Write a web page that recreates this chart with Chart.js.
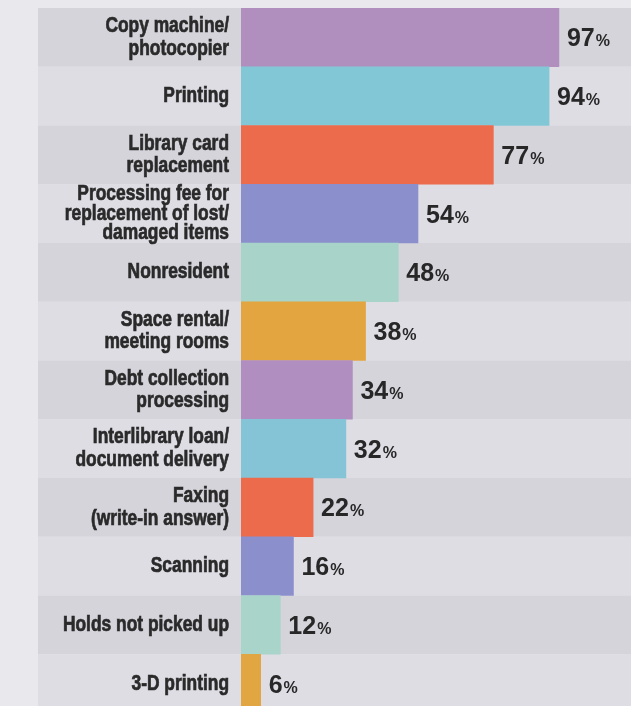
<!DOCTYPE html>
<html>
<head>
<meta charset="utf-8">
<script src="https://cdn.jsdelivr.net/npm/chart.js@4"></script>
<style>
	html, body { margin: 0; padding: 0; background: #e9e9ed; }
	#wrap { width: 631px; height: 706px; overflow: hidden; position: relative; }
	#feeChart { display: block; }
</style>
</head>
<body>
<div id="wrap">
	<canvas id="feeChart" width="631" height="713"></canvas>
</div>
<script>
// 항목 라벨 (여러 줄)
const categories = [
	['Copy machine/', 'photocopier'],
	['Printing'],
	['Library card', 'replacement'],
	['Processing fee for', 'replacement of lost/', 'damaged items'],
	['Nonresident'],
	['Space rental/', 'meeting rooms'],
	['Debt collection', 'processing'],
	['Interlibrary loan/', 'document delivery'],
	['Faxing', '(write-in answer)'],
	['Scanning'],
	['Holds not picked up'],
	['3-D printing']
];

// 퍼센트 값
const percents = [97, 94, 77, 54, 48, 38, 34, 32, 22, 16, 12, 6];

// 막대 색상
const barColors = [
	'#b08fbf', '#82c7d5', '#ec6b4d', '#8b8fcc', '#a7d3c9', '#e3a540',
	'#b08fc0', '#84c4d6', '#ec6b4d', '#8b8fcc', '#a9d4ca', '#e1a542'
];

const textFont = "'Liberation Sans', Arial, sans-serif";

// 행 배경 띠
const rowBands = {
	id: 'rowBands',
	beforeDraw(chart) {
		const { ctx, chartArea, scales } = chart;
		const step = chartArea.height / categories.length;
		ctx.save();
		categories.forEach((c, i) => {
			const y = scales.y.getPixelForValue(i) - step / 2;
			ctx.fillStyle = i % 2 === 0 ? '#d5d4db' : '#dedde4';
			ctx.fillRect(38, y, chart.width - 38, step);
		});
		ctx.restore();
	}
};

// 항목 라벨 (좁은 글꼴 느낌으로 가로 압축)
const categoryLabels = {
	id: 'categoryLabels',
	afterDraw(chart) {
		const { ctx, chartArea, scales } = chart;
		const right = chartArea.left - 12;
		const sx = 0.79;
		ctx.save();
		ctx.fillStyle = '#2a2a2a';
		ctx.strokeStyle = '#2a2a2a';
		ctx.lineWidth = 0.7;
		ctx.font = 'bold 22px ' + textFont;
		ctx.textAlign = 'right';
		ctx.textBaseline = 'middle';
		categories.forEach((lines, i) => {
			const cy = scales.y.getPixelForValue(i);
			const lh = lines.length > 2 ? 19.5 : 22.5;
			lines.forEach((line, j) => {
				const y = cy + (j - (lines.length - 1) / 2) * lh;
				ctx.save();
				ctx.translate(right, y);
				ctx.scale(sx, 1);
				ctx.fillText(line, 0, 0);
				ctx.strokeText(line, 0, 0); // 굵게 보이도록
				ctx.restore();
			});
		});
		ctx.restore();
	}
};

// 값 라벨 (숫자 + 작은 %)
const valueLabels = {
	id: 'valueLabels',
	afterDatasetsDraw(chart) {
		const { ctx } = chart;
		const bars = chart.getDatasetMeta(0).data;
		ctx.save();
		ctx.fillStyle = '#272727';
		ctx.textBaseline = 'alphabetic';
		bars.forEach((bar, i) => {
			const x = bar.x + 8;
			const y = bar.y + 9;
			ctx.font = 'bold 25px ' + textFont;
			const num = String(percents[i]);
			ctx.fillText(num, x, y);
			const w = ctx.measureText(num).width;
			ctx.font = 'bold 16px ' + textFont;
			ctx.fillText('%', x + w + 1, y);
		});
		ctx.restore();
	}
};

const feeCtx = document.getElementById('feeChart').getContext('2d');
new Chart(feeCtx, {
	type: 'bar',
	data: {
		labels: categories.map(c => c.join(' ')),
		datasets: [{
			data: percents,
			backgroundColor: barColors,
			borderWidth: 0,
			barPercentage: 1,
			categoryPercentage: 1
		}]
	},
	options: {
		indexAxis: 'y', // 수평 막대
		responsive: false,
		animation: false,
		layout: { padding: { top: 8, left: 0, right: 0, bottom: 0 } },
		scales: {
			x: {
				display: false,
				min: 0,
				max: 119
			},
			y: {
				grid: { display: false },
				border: { display: false },
				ticks: { display: false },
				afterFit(scale) { scale.width = 241; }
			}
		},
		plugins: {
			legend: { display: false },
			tooltip: { enabled: false }
		}
	},
	plugins: [rowBands, categoryLabels, valueLabels]
});
</script>
</body>
</html>
